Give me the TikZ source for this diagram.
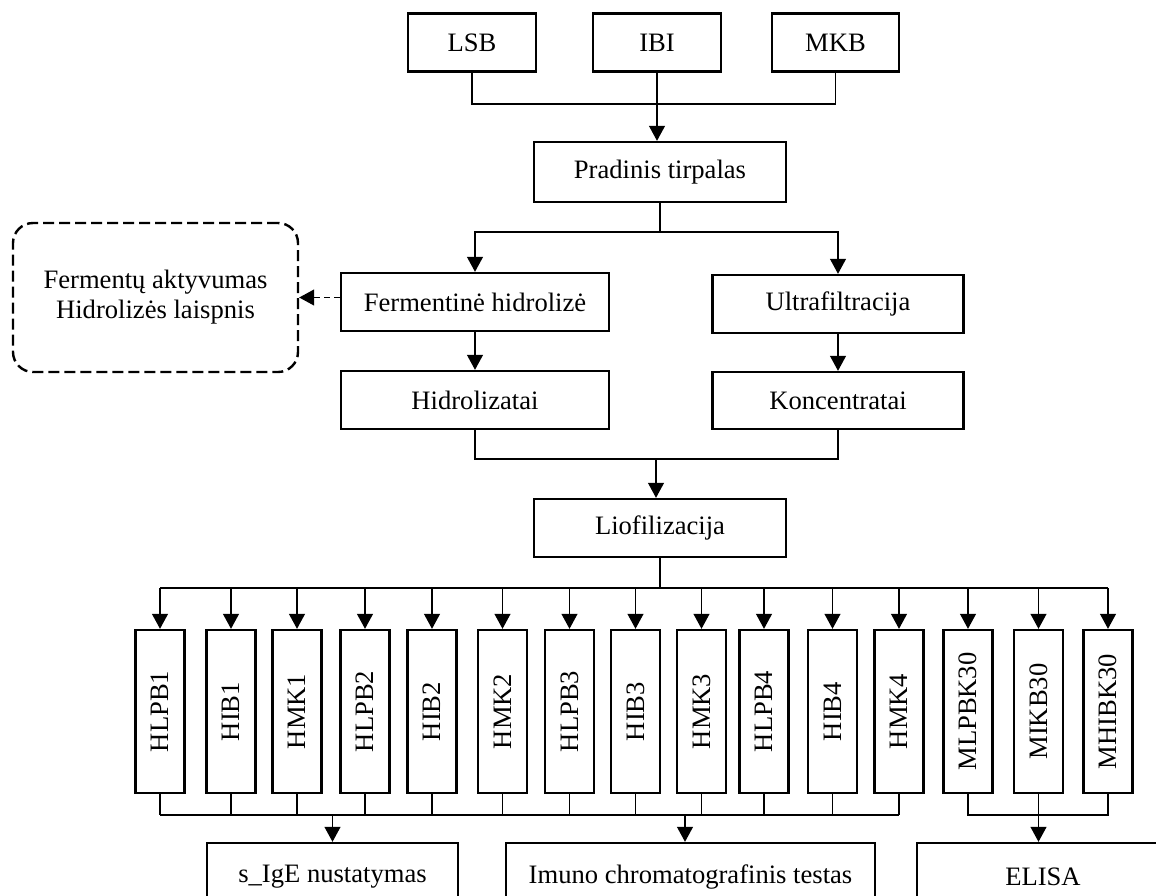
\documentclass[tikz,border=0pt]{standalone}
\usepackage{fontspec}
\setmainfont{Liberation Serif}
\usetikzlibrary{arrows.meta}
\begin{document}
\begin{tikzpicture}[x=0.5pt,y=-0.5pt,
  txt/.style={font=\fontsize{13.3pt}{15pt}\selectfont},
  box/.style={draw,line width=1.2pt,inner sep=0pt,minimum height=29pt,txt},
  vbox/.style={draw,line width=1.2pt,inner sep=0pt,minimum width=24.5pt,minimum height=81.5pt,txt},
  dbox/.style={draw,line width=1.2pt,dash pattern=on 5.5pt off 2.5pt,rounded corners=10pt,inner sep=0pt,minimum width=142.5pt,minimum height=74.5pt,align=center,txt},
  conn/.style={line width=0.6pt},
  tip/.style={-{Triangle[width=8pt,length=7.5pt]}},
  arr/.style={conn,tip},
  darr/.style={conn,dash pattern=on 3pt off 2pt,tip}
]
\useasboundingbox (0,0) rectangle (1156,895);
\clip (0,0) rectangle (1156,895);

% top row
\node[box,minimum width=64pt] (lsb) at (472,42.5) {LSB};
\node[box,minimum width=64pt] (ibi) at (657,42.5) {IBI};
\node[box,minimum width=63.5pt] (mkb) at (835.5,42.5) {MKB};
\node[box,minimum width=126pt,minimum height=30pt] (prad) at (660,172) {Pradinis tirpalas};

\node[box,minimum width=134pt] (ferm) at (475,302) {Fermentinė hidrolizė};
\node[box,minimum width=125.5pt] (ultra) at (838,304) {Ultrafiltracija};
\node[box,minimum width=134pt] (hidro) at (475,400) {Hidrolizatai};
\node[box,minimum width=125.5pt,minimum height=28.5pt] (konc) at (838,400.5) {Koncentratai};
\node[dbox] (dbx) at (155.5,297.5) {Fermentų aktyvumas\\Hidrolizės laispnis};
\node[box,minimum width=126pt] (lio) at (660,528) {Liofilizacija};

% vertical boxes
\node[vbox] (b1) at (160,711.5) {\rotatebox{90}{HLPB1}};
\node[vbox] (b2) at (231,711.5) {\rotatebox{90}{HIB1}};
\node[vbox] (b3) at (297,711.5) {\rotatebox{90}{HMK1}};
\node[vbox] (b4) at (365,711.5) {\rotatebox{90}{HLPB2}};
\node[vbox] (b5) at (432,711.5) {\rotatebox{90}{HIB2}};
\node[vbox] (b6) at (502.5,711.5) {\rotatebox{90}{HMK2}};
\node[vbox] (b7) at (569.5,711.5) {\rotatebox{90}{HLPB3}};
\node[vbox] (b8) at (635.5,711.5) {\rotatebox{90}{HIB3}};
\node[vbox] (b9) at (701.5,711.5) {\rotatebox{90}{HMK3}};
\node[vbox] (b10) at (764,711.5) {\rotatebox{90}{HLPB4}};
\node[vbox] (b11) at (832.5,711.5) {\rotatebox{90}{HIB4}};
\node[vbox] (b12) at (899,711.5) {\rotatebox{90}{HMK4}};
\node[vbox] (b13) at (968,711.5) {\rotatebox{90}{MLPBK30}};
\node[vbox] (b14) at (1038.5,711.5) {\rotatebox{90}{MIKB30}};
\node[vbox] (b15) at (1108,711.5) {\rotatebox{90}{MHIBK30}};

% bottom boxes (cut off by the picture's lower edge)
\node[box,minimum width=125.5pt,minimum height=34pt] (sige) at (332.5,877) {s\_IgE nustatymas};
\node[box,minimum width=184.5pt,minimum height=34pt] (imuno) at (690.5,877) {Imuno chromatografinis testas};
\node[box,minimum width=126pt,minimum height=34pt] (elisa) at (1043,877) {ELISA};

% junction coordinates
\coordinate (j1) at (657,104);
\coordinate (j2) at (660,232);
\coordinate (j3) at (656,459);
\coordinate (j4) at (660,588);
\coordinate (j5) at (660,815);
\coordinate (j6) at (1038.5,815);

% connectors
\draw[conn] (lsb.south) |- (j1) -| (mkb.south);
\draw[conn] (ibi.south) -- (j1);
\draw[arr] (j1) -- (j1 |- prad.north);

\draw[conn] (prad.south) -- (j2);
\draw[arr] (j2) -| (ferm.north);
\draw[arr] (j2) -| (ultra.north);
\draw[arr] (ferm.south) -- (hidro.north);
\draw[arr] (ultra.south) -- (konc.north);
\draw[darr] (ferm.west |- dbx.east) -- (dbx.east);

\draw[conn] (hidro.south) |- (j3) -| (konc.south);
\draw[arr] (j3) -- (j3 |- lio.north);

\draw[conn] (lio.south) -- (j4);
\draw[conn] (b1.north |- j4) -- (b15.north |- j4);
\foreach \b in {b1,b2,b3,b4,b5,b6,b7,b8,b9,b10,b11,b12,b13,b14,b15}
  \draw[arr] (\b.north |- j4) -- (\b.north);

\foreach \b in {b1,b2,b3,b4,b5,b6,b7,b8,b9,b10,b11,b12}
  \draw[conn] (\b.south) -- (\b.south |- j5);
\draw[conn] (b1.south |- j5) -- (b12.south |- j5);
\draw[arr] (sige.north |- j5) -- (sige.north);
\draw[arr] ([xshift=-2.75pt]imuno.north |- j5) -- ([xshift=-2.75pt]imuno.north);

\draw[conn] (b13.south) |- (j6) -| (b15.south);
\draw[conn] (b14.south) -- (j6);
\draw[arr] (j6) -- (j6 |- elisa.north);
\end{tikzpicture}
\end{document}
